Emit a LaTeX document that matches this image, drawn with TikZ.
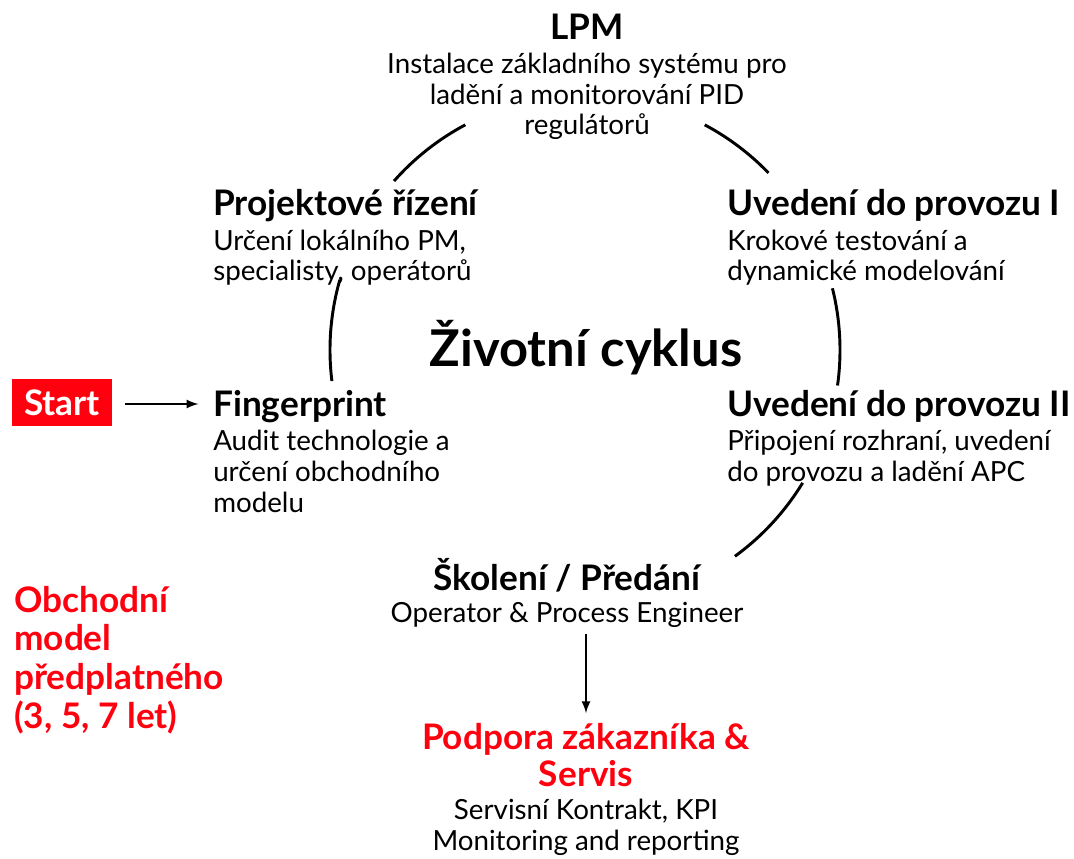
\documentclass[tikz,border=0pt]{standalone}
\usepackage{fontspec}
\setmainfont{Lato}
\usetikzlibrary{arrows}
\definecolor{abbred}{RGB}{255,0,15}

\tikzset{
  hlava/.style={font=\fontsize{26.4}{30}\selectfont\bfseries, inner sep=0pt},
  popis/.style={font=\fontsize{20.8}{23.1}\selectfont, inner sep=0pt},
  cervena/.style={text=abbred, font=\fontsize{26.4}{27.3}\selectfont\bfseries, inner sep=0pt},
  kruh/.style={line width=2.2pt},
  sipka/.style={-latex, line width=2pt},
}

\begin{document}
\begin{tikzpicture}[x=0.75pt,y=-0.75pt]
  \useasboundingbox (0,0) rectangle (1074,859);
  \coordinate (stred) at (585,350);
  % oblouky kolem cyklu
  \draw[kruh] ([shift={(-138.5:255)}]stred) arc[start angle=-138.5, end angle=-118, radius=255];
  \draw[kruh] ([shift={(-62:255)}]stred) arc[start angle=-62, end angle=-44, radius=255];
  \draw[kruh] ([shift={(-164:255)}]stred) arc[start angle=-164, end angle=-187, radius=255];
  \draw[kruh] ([shift={(-14:255)}]stred) arc[start angle=-14, end angle=8, radius=255];
  \draw[kruh] ([shift={(31.4:255)}]stred) arc[start angle=31.4, end angle=54, radius=255];

  \node[font=\fontsize{38}{44}\selectfont\bfseries, inner sep=0pt, anchor=base] (cyklus) at (586,366) {Životní cyklus};

  % LPM
  \node[hlava, anchor=base] (lpm) at (587,40) {LPM};
  \node[popis, anchor=base, align=center] (lpmtxt) at (587,135)
    {Instalace základního systému pro\\ladění a monitorování PID\\regulátorů};

  % Projektove rizeni
  \node[hlava, anchor=base west] (projekt) at (213,216) {Projektové řízení};
  \node[popis, anchor=base west, align=left] (projekttxt) at (213,281)
    {Určení lokálního PM,\\specialisty, operátorů};

  % Uvedeni do provozu I
  \node[hlava, anchor=base west] (uvedeni) at (727,216) {Uvedení do provozu I};
  \node[popis, anchor=base west, align=left] (uvedenitxt) at (727,281)
    {Krokové testování a\\dynamické modelování};

  % Fingerprint + start
  \node[hlava, anchor=base west] (finger) at (213,416) {Fingerprint};
  \node[popis, anchor=base west, align=left] (fingertxt) at (213,512)
    {Audit technologie a\\určení obchodního\\modelu};
  \node[fill=abbred, text=white, font=\fontsize{26.4}{30}\selectfont\bfseries,
        minimum width=75pt, minimum height=35pt, inner sep=0pt] (start) at (62,402.5) {Start};
  \draw[sipka, shorten >=11pt] (start.east) ++(13,1.5) coordinate (startkonec) -- (finger.west |- startkonec);

  % Uvedeni do provozu II
  \node[hlava, anchor=base west] (uvedeni2) at (727,416) {Uvedení do provozu II};
  \node[popis, anchor=base west, align=left] (uvedeni2txt) at (727,481)
    {Připojení rozhraní, uvedení\\do provozu a ladění APC};

  % Skoleni
  \node[hlava, anchor=base] (skoleni) at (567,590) {Školení / Předání};
  \node[popis, anchor=base] (skolenitxt) at (567,622) {Operator \& Process Engineer};

  % Podpora
  \node[cervena, anchor=base, align=center] (podpora) at (586,786)
    {Podpora zákazníka \&\\Servis};
  \node[popis, anchor=base, align=center] (podporatxt) at (586,850)
    {Servisní Kontrakt, KPI\\Monitoring and reporting};
  \draw[sipka, shorten <=5pt, shorten >=7.5pt] (skolenitxt.south -| podpora.north) -- (podpora.north);

  % model predplatneho
  \node[cervena, anchor=base west, align=left, font=\fontsize{26.4}{29}\selectfont\bfseries] (obchod) at (14,728)
    {Obchodní\\model\\předplatného\\(3, 5, 7 let)};
\end{tikzpicture}
\end{document}
